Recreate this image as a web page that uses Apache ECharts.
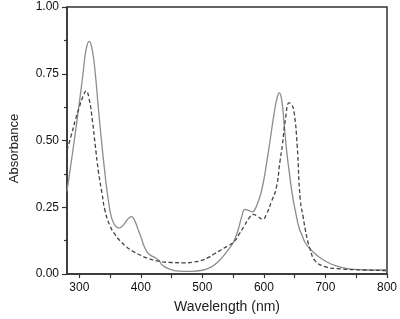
<!DOCTYPE html>
<html lang="en" style="height: 100%">

<head>
  <meta charset="utf-8">
  <style>
    html,
    body {
      margin: 0;
      padding: 0;
      width: 100%;
      height: 100%;
      overflow: hidden;
      background: #fff;
    }
  </style>
</head>

<body>
  <div id="container" style="height: 319px;width: 400px;"></div>

  <script type="text/javascript" src="https://cdn.jsdelivr.net/npm/echarts@6/dist/echarts.min.js"></script>
  <script type="text/javascript">

    // solid curve (nm / absorbance)
    var solidNm = [280, 290, 300, 306, 311, 316, 321, 326, 331, 336, 342, 347, 352, 358, 365, 372, 379, 385, 390, 395,
      400, 406, 413, 424, 430, 434, 445, 461, 482, 500, 514, 525, 535, 545, 551, 558, 564, 569, 575, 581,
      588, 596, 604, 610, 617, 622, 625, 629, 633, 637, 641, 646, 651, 657, 662, 667, 675, 685, 694, 705,
      715, 736, 760, 800];
    var solidAbs = [0.31, 0.47, 0.64, 0.75, 0.84, 0.871, 0.84, 0.75, 0.62, 0.50, 0.37, 0.28, 0.215, 0.182, 0.172, 0.185, 0.206, 0.215, 0.20, 0.17,
      0.14, 0.10, 0.075, 0.06, 0.05, 0.035, 0.02, 0.011, 0.010, 0.014, 0.026, 0.045, 0.070, 0.100, 0.122, 0.165, 0.215, 0.242, 0.238, 0.233,
      0.255, 0.31, 0.41, 0.50, 0.607, 0.665, 0.678, 0.65, 0.557, 0.46, 0.385, 0.30, 0.237, 0.174, 0.145, 0.118, 0.094, 0.072, 0.057, 0.042,
      0.032, 0.02, 0.016, 0.015];

    // dashed curve
    var dashNm = [280, 287, 294, 300, 306, 311, 316, 321, 326, 331, 337, 342, 350, 358, 366, 376, 387, 397, 410, 429,
      450, 470, 487, 500, 510, 519, 530, 541, 551, 560, 568, 576, 583, 590, 598, 604, 612, 620, 626, 630,
      635, 641, 645, 649, 654, 659, 664, 667, 671, 675, 683, 699, 720, 760, 800];
    var dashAbs = [0.464, 0.52, 0.58, 0.625, 0.665, 0.686, 0.655, 0.58, 0.48, 0.385, 0.30, 0.235, 0.18, 0.148, 0.125, 0.103, 0.085, 0.073, 0.06, 0.048,
      0.043, 0.042, 0.045, 0.052, 0.062, 0.075, 0.090, 0.105, 0.12, 0.15, 0.18, 0.21, 0.223, 0.215, 0.205, 0.223, 0.27, 0.322, 0.42, 0.483,
      0.58, 0.641, 0.635, 0.607, 0.483, 0.28, 0.21, 0.17, 0.125, 0.094, 0.05, 0.028, 0.02, 0.015, 0.013];

    var xLabels = [300, 400, 500, 600, 700, 800];
    var xTicks = [300, 350, 400, 450, 500, 550, 600, 650, 700, 750, 800];

    const zip = (a, b) => a.map((v, i) => [v, b[i]]);

    var dom = document.getElementById('container');
    var myChart = echarts.init(dom, null, { renderer: 'canvas' });

    var axisColor = '#333';
    var font = 'Liberation Sans';

    var option = {
      animation: false,
      grid: {
        left: 59,
        right: 12,
        top: 7,
        bottom: 42,
        show: true,
        borderColor: axisColor,
        borderWidth: 1.5
      },
      xAxis: {
        type: 'value',
        min: 280,
        max: 800,
        name: 'Wavelength (nm)',
        nameLocation: 'middle',
        nameGap: 26,
        nameTextStyle: { color: '#222', fontSize: 14, fontFamily: font },
        splitLine: { show: false },
        axisLine: { show: true, lineStyle: { color: axisColor, width: 1.5 } },
        axisTick: { show: true, length: 4, customValues: xTicks, lineStyle: { color: axisColor, width: 1.2 } },
        axisLabel: { customValues: xLabels, margin: 8, color: '#111', fontSize: 12, fontFamily: font }
      },
      yAxis: {
        type: 'value',
        min: 0,
        max: 1,
        interval: 0.25,
        name: 'Absorbance',
        nameLocation: 'middle',
        nameGap: 46,
        nameTextStyle: { color: '#222', fontSize: 13, fontFamily: font, padding: [0, 16, 0, 0] },
        splitLine: { show: false },
        axisLine: { show: true, lineStyle: { color: axisColor, width: 1.5 } },
        axisTick: { show: true, length: 5, lineStyle: { color: axisColor, width: 1.2 } },
        minorTick: { show: true, splitNumber: 2, length: 3, lineStyle: { color: axisColor, width: 1.2 } },
        axisLabel: {
          margin: 8, color: '#111', fontSize: 12, fontFamily: font,
          formatter: function (v) { return v.toFixed(2); }
        }
      },
      series: [{
        name: 'solid',
        type: 'line',
        smooth: 0.5,
        showSymbol: false,
        lineStyle: { color: '#8c8c8c', width: 1.3 },
        data: zip(solidNm, solidAbs)
      }, {
        name: 'dashed',
        type: 'line',
        smooth: 0.5,
        showSymbol: false,
        lineStyle: { color: '#444', width: 1.3, type: [4, 2.5] },
        data: zip(dashNm, dashAbs)
      }]
    };

    myChart.setOption(option);
    window.addEventListener('resize', myChart.resize);
  </script>
</body>

</html>
